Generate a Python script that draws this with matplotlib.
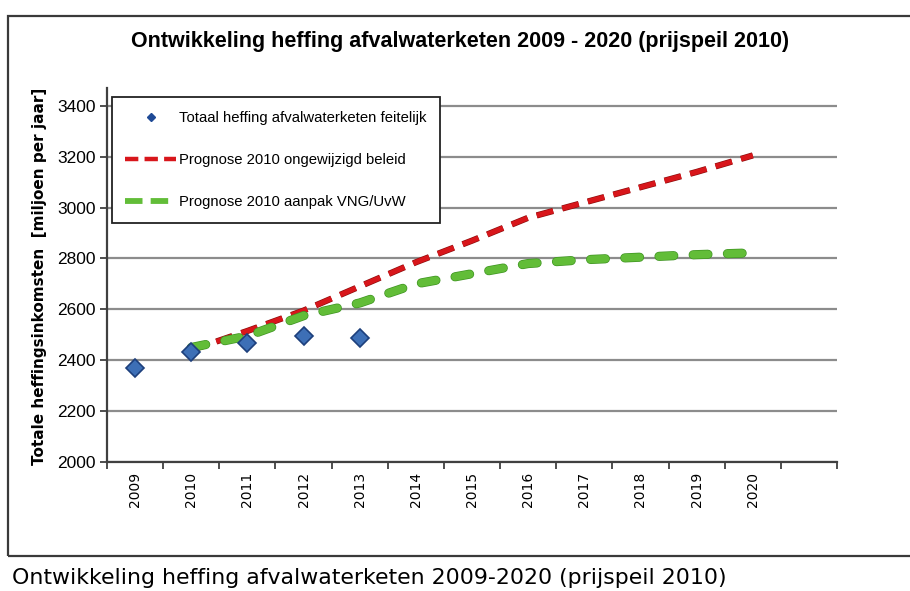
import numpy as np
import matplotlib
matplotlib.use("Agg")
import matplotlib.pyplot as plt
import matplotlib.patheffects as pe
from matplotlib.lines import Line2D
from matplotlib.patches import Rectangle

# categories (one empty slot after 2020, as in the original Excel chart)
years = [2009, 2010, 2011, 2012, 2013, 2014, 2015, 2016, 2017, 2018, 2019, 2020]
n_slots = 13

# actual levy (feitelijk)
feitelijk_jaren = [2009, 2010, 2011, 2012, 2013]
feitelijk = [2370, 2433, 2468, 2495, 2487]

# forecasts 2010
prognose_jaren = [2010, 2011, 2012, 2013, 2014, 2015, 2016, 2017, 2018, 2019, 2020]
ongewijzigd = [2440, 2515, 2595, 2690, 2785, 2870, 2960, 3020, 3080, 3140, 3205]
vng_uvw = [2450, 2495, 2575, 2625, 2700, 2740, 2780, 2795, 2805, 2815, 2822]

yticks = [2000, 2200, 2400, 2600, 2800, 3000, 3200, 3400]

labels = [
    "Totaal heffing afvalwaterketen feitelijk",
    "Prognose 2010 ongewijzigd beleid",
    "Prognose 2010 aanpak VNG/UvW",
]

SANS = ["Liberation Sans", "DejaVu Sans"]
RED, RED_EDGE = "#d8161b", "#8a0c0c"
GREEN, GREEN_EDGE = "#62bd38", "#3f9422"
BLUE, BLUE_EDGE = "#3d6fb6", "#1d3f7c"

W, H = 910, 591
fig = plt.figure(figsize=(W / 100, H / 100), dpi=100)
fig.patch.set_facecolor("white")

# chart frame (runs off the right edge in the reference)
fig.patches.append(Rectangle((8 / W, 1 - 556 / H), 1.0, (556 - 16) / H,
                             transform=fig.transFigure, fill=False,
                             ec="#3a3a3a", lw=1.6))

ax = fig.add_axes([107 / W, 1 - 462 / H, 730 / W, 374 / H])

pos = {y: i for i, y in enumerate(years)}
xf = [pos[y] for y in feitelijk_jaren]
xp = [pos[y] for y in prognose_jaren]

ax.plot(xp, ongewijzigd, color=RED, lw=3.6, dashes=(3.4, 1.9),
        dash_capstyle="butt", zorder=3,
        path_effects=[pe.Stroke(linewidth=4.5, foreground=RED_EDGE), pe.Normal()])
ax.plot(xp, vng_uvw, color=GREEN, lw=5.6, dashes=(1.9, 2.5),
        dash_capstyle="round", zorder=4,
        path_effects=[pe.Stroke(linewidth=6.6, foreground=GREEN_EDGE), pe.Normal()])
ax.plot(xf, feitelijk, ls="none", marker="D", ms=9, mfc=BLUE, mec=BLUE_EDGE,
        mew=1.2, zorder=5)

ax.set_xlim(-0.5, n_slots - 0.5)
ax.set_ylim(2000, 3470)

# y axis
ax.set_yticks(yticks)
ax.set_yticklabels([str(v) for v in yticks], family=SANS, fontsize=12.5)
ax.tick_params(axis="y", direction="out", length=5, width=1.3, color="#404040", pad=3)
ax.yaxis.grid(True, color="#8c8c8c", lw=1.6)
ax.set_axisbelow(True)

# x axis: tick marks between categories, labels at the centres
ax.set_xticks(np.arange(-0.5, n_slots, 1.0))
ax.set_xticklabels([])
ax.set_xticks(np.arange(len(years)), minor=True)
ax.set_xticklabels([str(y) for y in years], minor=True, rotation=90,
                   fontsize=10, family="DejaVu Sans")
ax.tick_params(axis="x", which="major", direction="out", length=5, width=1.3,
               color="#404040")
ax.tick_params(axis="x", which="minor", length=0, pad=7)

for side in ("top", "right"):
    ax.spines[side].set_visible(False)
for side in ("left", "bottom"):
    ax.spines[side].set_color("#404040")
    ax.spines[side].set_linewidth(1.6)

# legend
handles = [
    Line2D([], [], ls="none", marker="D", ms=4, color="#1f4a96"),
    Line2D([], [], color=RED, lw=3.2, dashes=(3.0, 1.4)),
    Line2D([], [], color=GREEN, lw=4.2, dashes=(3.0, 1.4)),
]
leg = ax.legend(handles, labels, loc="upper left", bbox_to_anchor=(0.007, 0.975),
                borderaxespad=0, fancybox=False, framealpha=1, edgecolor="#222222",
                prop={"family": SANS, "size": 10.7}, handlelength=3.4,
                handletextpad=0.2, labelspacing=1.9, borderpad=0.9)
leg.get_frame().set_linewidth(1.3)

fig.text(460 / W, 1 - 42 / H, "Ontwikkeling heffing afvalwaterketen 2009 - 2020 (prijspeil 2010)",
         ha="center", va="center", fontsize=15.5, fontweight="bold", family=SANS)
fig.text(40 / W, 1 - 276 / H, "Totale heffingsinkomsten  [miljoen per jaar]",
         rotation=90, ha="center", va="center", fontsize=11, fontweight="bold",
         family="DejaVu Sans")
fig.text(12 / W, 1 - 578 / H, "Ontwikkeling heffing afvalwaterketen 2009-2020 (prijspeil 2010)",
         ha="left", va="center", fontsize=15.8, family="DejaVu Sans")

fig.savefig("out.png", dpi=100)
